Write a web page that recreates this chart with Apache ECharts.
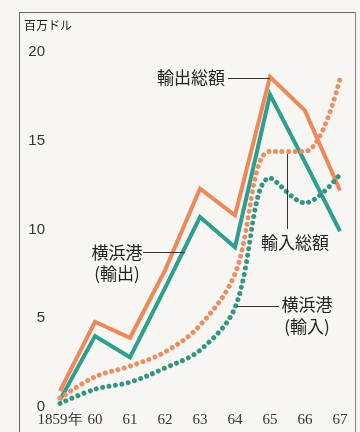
<!DOCTYPE html>
<html><head><meta charset="utf-8">
<script src="https://cdn.jsdelivr.net/npm/echarts@6/dist/echarts.min.js"></script>
<style>html,body{margin:0;padding:0;background:#f7f6f2}#c{width:360px;height:432px}</style>
</head><body><div id="c"></div>
<script>
// Data (millions of dollars)
const years = ['1859年','60','61','62','63','64','65','66','67'];
const exportTotal    = [0.9, 4.8, 3.9, 7.7, 12.3, 10.8, 18.6, 16.7, 12.2]; // 輸出総額
const yokohamaExport = [0.4, 4.0, 2.8, 6.7, 10.7, 9.0, 17.6, 13.8, 9.9];   // 横浜港(輸出)
const importTotal    = [0.5, 1.7, 2.3, 3.1, 4.6, 7.5, 14.4, 14.4, 18.5];  // 輸入総額
const yokohamaImport = [0.2, 1.0, 1.4, 2.2, 3.2, 5.6, 12.9, 11.5, 13.1];  // 横浜港(輸入)
const yMin = 0, yMax = 20, yStep = 5;

const ORANGE = '#ee8858', TEAL = '#2e9e8e';
const ORANGE_DOT = '#e88f64', TEAL_DOT = '#359585';
const JP = '"Noto Sans CJK JP", sans-serif';

const chart = echarts.init(document.getElementById('c'), null, {renderer: 'canvas'});
chart.setOption({
  backgroundColor: '#f7f6f2',
  animation: false,
  grid: {left: 60, right: 20, top: 52, bottom: 25, containLabel: false},
  xAxis: {
    type: 'category', data: years, boundaryGap: false,
    axisLine: {show: false}, axisTick: {show: false}, splitLine: {show: false},
    axisLabel: {interval: 0, margin: 6, fontFamily: '"Liberation Serif", serif', fontSize: 15, color: '#333'}
  },
  yAxis: {
    type: 'value', min: yMin, max: yMax, interval: yStep,
    axisLine: {show: false}, axisTick: {show: false}, splitLine: {show: false},
    axisLabel: {margin: 15, fontFamily: '"Liberation Sans", sans-serif', fontSize: 15, color: '#333'}
  },
  series: [
    {name: '横浜港(輸出)', type: 'line', data: yokohamaExport, symbol: 'none',
     lineStyle: {color: TEAL, width: 4, join: 'miter'}, z: 2},
    {name: '輸出総額', type: 'line', data: exportTotal, symbol: 'none',
     lineStyle: {color: ORANGE, width: 4, join: 'miter'}, z: 3},
    {name: '横浜港(輸入)', type: 'line', data: yokohamaImport, symbol: 'none', smooth: 0.35,
     lineStyle: {color: TEAL_DOT, width: 5, type: [0.01, 6.5], cap: 'round'}, z: 4},
    {name: '輸入総額', type: 'line', data: importTotal, symbol: 'none', smooth: 0.35,
     lineStyle: {color: ORANGE_DOT, width: 5, type: [0.01, 6.5], cap: 'round'}, z: 5}
  ],
  graphic: [
    // frame
    {type: 'line', shape: {x1: 19.5, y1: 12, x2: 19.5, y2: 432}, style: {stroke: '#666', lineWidth: 1}},
    {type: 'line', shape: {x1: 19, y1: 12.5, x2: 355.5, y2: 12.5}, style: {stroke: '#666', lineWidth: 1}},
    {type: 'line', shape: {x1: 355.5, y1: 12, x2: 355.5, y2: 432}, style: {stroke: '#888', lineWidth: 1}},
    // unit
    {type: 'text', left: 24, top: 19, style: {text: '百万ドル', font: '12px ' + JP, fill: '#222'}},
    // 輸出総額
    {type: 'text', x: 225, y: 78, style: {text: '輸出総額', font: '17px ' + JP, fill: '#222', align: 'right', verticalAlign: 'middle'}},
    {type: 'line', shape: {x1: 228, y1: 78.5, x2: 270, y2: 78.5}, style: {stroke: '#333', lineWidth: 1}, z: 10},
    // 横浜港(輸出)
    {type: 'text', x: 117, y: 253, style: {text: '横浜港', font: '17px ' + JP, fill: '#222', align: 'center', verticalAlign: 'middle'}},
    {type: 'text', x: 117, y: 274, style: {text: '(輸出)', font: '17px ' + JP, fill: '#222', align: 'center', verticalAlign: 'middle'}},
    {type: 'line', shape: {x1: 143, y1: 252.5, x2: 185, y2: 252.5}, style: {stroke: '#333', lineWidth: 1}, z: 10},
    // 輸入総額
    {type: 'text', x: 295, y: 243, style: {text: '輸入総額', font: '17px ' + JP, fill: '#222', align: 'center', verticalAlign: 'middle'}},
    {type: 'line', shape: {x1: 287.5, y1: 154, x2: 287.5, y2: 229}, style: {stroke: '#333', lineWidth: 1}, z: 10},
    // 横浜港(輸入)
    {type: 'text', x: 307, y: 305, style: {text: '横浜港', font: '17px ' + JP, fill: '#222', align: 'center', verticalAlign: 'middle'}},
    {type: 'text', x: 307, y: 327, style: {text: '(輸入)', font: '17px ' + JP, fill: '#222', align: 'center', verticalAlign: 'middle'}},
    {type: 'line', shape: {x1: 237, y1: 306.5, x2: 279, y2: 306.5}, style: {stroke: '#333', lineWidth: 1}, z: 10}
  ]
});
</script>
</body></html>
